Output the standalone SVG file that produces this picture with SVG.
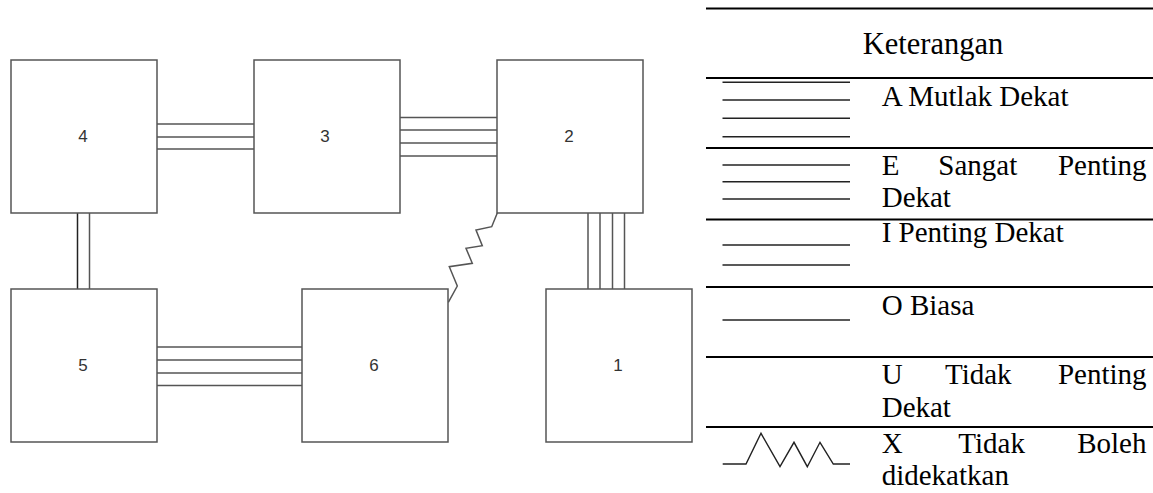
<svg xmlns="http://www.w3.org/2000/svg" width="1153" height="493" viewBox="0 0 1153 493">
<style>
.box{fill:#fff;stroke:#555;stroke-width:1.5}
.num{font-family:"Liberation Sans",Arial,sans-serif;font-size:17px;fill:#333;text-anchor:middle}
.con line,.con polyline{stroke:#555;stroke-width:1.5;fill:none}
.rule{stroke:#000;stroke-width:2.2}
.sym{stroke:#222;stroke-width:1.4;fill:none}
.lt{font-family:"Liberation Serif","Times New Roman",serif;font-size:29px;fill:#000}
.end{text-anchor:end}
</style>
<rect width="1153" height="493" fill="#fff"/>
<g id="connectors" class="con">
  <line x1="157" y1="124" x2="254" y2="124"/>
  <line x1="157" y1="137" x2="254" y2="137"/>
  <line x1="157" y1="149" x2="254" y2="149"/>
  <line x1="400" y1="117.5" x2="497" y2="117.5"/>
  <line x1="400" y1="130" x2="497" y2="130"/>
  <line x1="400" y1="143" x2="497" y2="143"/>
  <line x1="400" y1="156" x2="497" y2="156"/>
  <line x1="77.5" y1="213" x2="77.5" y2="289" style="stroke:#222"/>
  <line x1="89.5" y1="213" x2="89.5" y2="289"/>
  <line x1="157" y1="347" x2="302" y2="347"/>
  <line x1="157" y1="360" x2="302" y2="360"/>
  <line x1="157" y1="373" x2="302" y2="373"/>
  <line x1="157" y1="385.5" x2="302" y2="385.5"/>
  <line x1="588" y1="213" x2="588" y2="289"/>
  <line x1="600" y1="213" x2="600" y2="289"/>
  <line x1="612.5" y1="213" x2="612.5" y2="289"/>
  <line x1="624.5" y1="213" x2="624.5" y2="289"/>
  <polyline points="497.3,213 491.7,226.7 476,230 482.3,245.7 466,248.3 472.3,263.3 449.3,266.7 457.3,286 448.3,302.3"/>
</g>
<g id="node4"><rect class="box" x="11" y="60" width="146" height="153"/><text class="num" x="83" y="142">4</text></g>
<g id="node3"><rect class="box" x="254" y="60" width="146" height="153"/><text class="num" x="325" y="142">3</text></g>
<g id="node2"><rect class="box" x="497" y="60" width="146" height="153"/><text class="num" x="569" y="142">2</text></g>
<g id="node5"><rect class="box" x="11" y="289" width="146" height="153"/><text class="num" x="83" y="371">5</text></g>
<g id="node6"><rect class="box" x="302" y="289" width="146" height="153"/><text class="num" x="374" y="371">6</text></g>
<g id="node1"><rect class="box" x="546" y="289" width="146" height="153"/><text class="num" x="618" y="371">1</text></g>
<g id="legend">
  <line class="rule" x1="706" y1="8.5" x2="1153" y2="8.5"/>
  <line class="rule" x1="706" y1="78" x2="1153" y2="78"/>
  <line class="rule" x1="706" y1="148" x2="1153" y2="148"/>
  <line class="rule" x1="706" y1="219.5" x2="1153" y2="219.5"/>
  <line class="rule" x1="706" y1="287" x2="1153" y2="287"/>
  <line class="rule" x1="706" y1="357" x2="1153" y2="357"/>
  <line class="rule" x1="706" y1="427" x2="1153" y2="427"/>
  <text class="lt" x="933" y="54" text-anchor="middle" style="font-size:30.5px">Keterangan</text>
  <g id="rowA">
    <line class="sym" x1="722.5" y1="82.3" x2="850" y2="82.3"/>
    <line class="sym" x1="722.5" y1="100" x2="850" y2="100"/>
    <line class="sym" x1="722.5" y1="118.3" x2="850" y2="118.3"/>
    <line class="sym" x1="722.5" y1="136.7" x2="850" y2="136.7"/>
    <text class="lt" x="881.7" y="106">A Mutlak Dekat</text>
  </g>
  <g id="rowE">
    <line class="sym" x1="722.5" y1="165" x2="850" y2="165"/>
    <line class="sym" x1="722.5" y1="181.7" x2="850" y2="181.7"/>
    <line class="sym" x1="722.5" y1="199" x2="850" y2="199"/>
    <text class="lt" x="881.7" y="175">E</text>
    <text class="lt" x="938.3" y="175">Sangat</text>
    <text class="lt end" x="1146.5" y="175">Penting</text>
    <text class="lt" x="881.7" y="207">Dekat</text>
  </g>
  <g id="rowI">
    <line class="sym" x1="722.5" y1="245" x2="850" y2="245"/>
    <line class="sym" x1="722.5" y1="265" x2="850" y2="265"/>
    <text class="lt" x="881.7" y="242">I Penting Dekat</text>
  </g>
  <g id="rowO">
    <line class="sym" x1="722.5" y1="320" x2="850" y2="320"/>
    <text class="lt" x="881.7" y="315">O Biasa</text>
  </g>
  <g id="rowU">
    <text class="lt" x="881.7" y="384">U</text>
    <text class="lt" x="945" y="384">Tidak</text>
    <text class="lt end" x="1146.5" y="384">Penting</text>
    <text class="lt" x="881.7" y="417">Dekat</text>
  </g>
  <g id="rowX">
    <polyline class="sym" points="722.7,464 746,464 761,433.3 780,466.7 794,442.3 807.3,466.7 820,442.3 833.3,464 850,464"/>
    <text class="lt" x="881.7" y="452.5">X</text>
    <text class="lt" x="958.3" y="452.5">Tidak</text>
    <text class="lt end" x="1146.5" y="452.5">Boleh</text>
    <text class="lt" x="881.7" y="485">didekatkan</text>
  </g>
</g>
</svg>
